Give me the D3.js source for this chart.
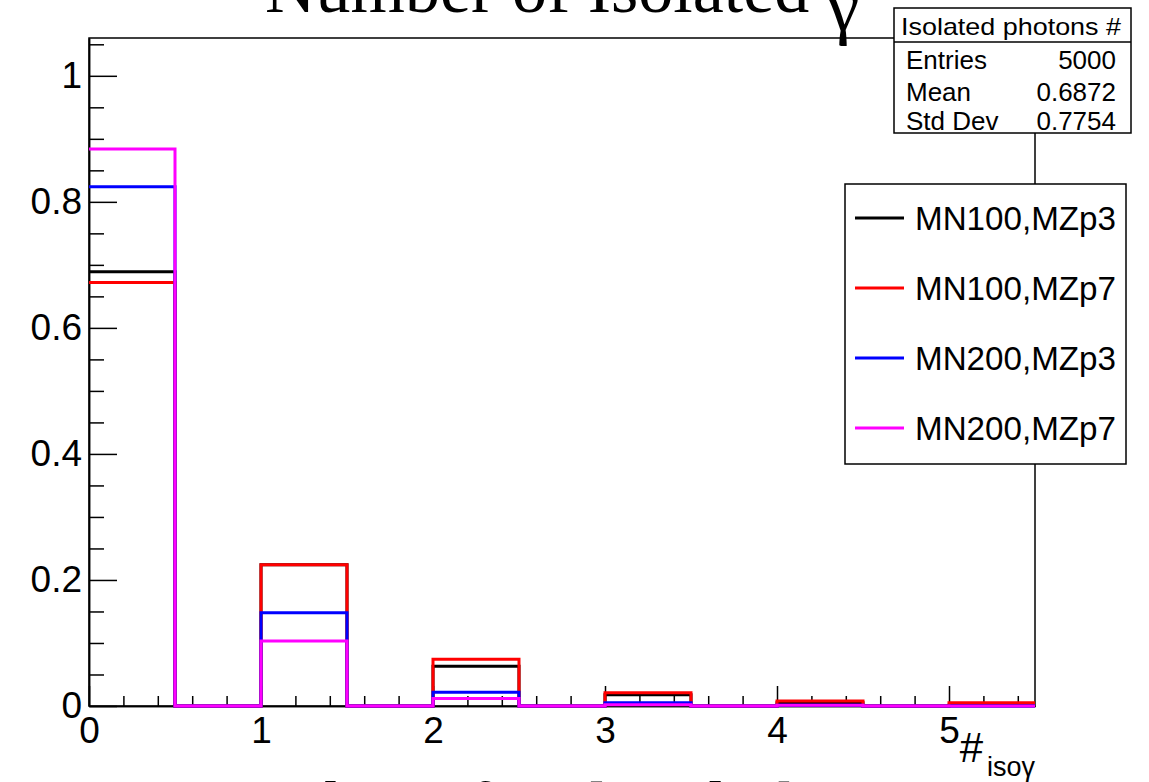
<!DOCTYPE html>
<html>
<head>
<meta charset="utf-8">
<script src="https://cdn.jsdelivr.net/npm/d3@7"></script>
<style>
body { margin: 0; background: #fff; }
svg { display: block; }
text { font-family: "Liberation Sans", Arial, Helvetica, sans-serif; fill: #000; }
.serif { font-family: "Liberation Serif", "Times New Roman", serif; }
</style>
</head>
<body>
<svg id="chart" width="1149" height="782"></svg>
<script>
// bin lower edges (bin width 0.5)
var binEdges = [0, 0.5, 1, 1.5, 2, 2.5, 3, 3.5, 4, 4.5, 5];
var binHigh = 5.5;

var seriesNames = ["MN100,MZp3", "MN100,MZp7", "MN200,MZp3", "MN200,MZp7"];
var seriesColors = ["#000000", "#ff0000", "#0000ff", "#ff00ff"];

var mn100mzp3 = [0.689, 0, 0.224, 0, 0.063, 0, 0.018, 0, 0.005, 0, 0.001];
var mn100mzp7 = [0.672, 0, 0.224, 0, 0.074, 0, 0.021, 0, 0.008, 0, 0.005];
var mn200mzp3 = [0.824, 0, 0.148, 0, 0.022, 0, 0.005, 0, 0.001, 0, 0.0];
var mn200mzp7 = [0.884, 0, 0.103, 0, 0.012, 0, 0.002, 0, 0.001, 0, 0.0];

var xTicks = [0, 1, 2, 3, 4, 5];
var yTicks = [0, 0.2, 0.4, 0.6, 0.8, 1];

var statsTitle = "Isolated photons #";
var statsLabels = ["Entries", "Mean", "Std Dev"];
var statsValues = ["5000", "0.6872", "0.7754"];

var allSeries = [mn100mzp3, mn100mzp7, mn200mzp3, mn200mzp7];

function draw() {
    var svg = d3.select("#chart");

    var padL = 89, padR = 1035, padT = 38, padB = 706;

    var x = d3.scaleLinear().domain([0, binHigh]).range([padL, padR]);
    var y = d3.scaleLinear().domain([0, 1.06]).range([padB, padT]);

    // title (cut at the top of the canvas)
    var title = svg.append("text")
        .attr("class", "serif")
        .attr("x", 265)
        .attr("y", 12)
        .style("font-size", "70px")
        .text("Number of Isolated ");
    title.append("tspan").attr("dy", 18).style("font-size", "74px").text("γ");

    // caption below, mostly cut off
    svg.append("text")
        .attr("class", "serif")
        .attr("x", 575)
        .attr("y", 830)
        .attr("text-anchor", "middle")
        .style("font-size", "70px")
        .text("Number of isolated photons");

    var line = d3.line()
        .x(function(d) { return x(d[0]); })
        .y(function(d) { return y(d[1]); })
        .curve(d3.curveStepAfter);

    // frame
    svg.append("rect")
        .attr("x", padL).attr("y", padT)
        .attr("width", padR - padL).attr("height", padB - padT)
        .attr("fill", "none").attr("stroke", "#000").attr("stroke-width", 1.5);

    // y axis
    var yAxis = svg.append("g")
        .attr("transform", "translate(" + padL + ",0)")
        .call(d3.axisLeft(y).tickValues(yTicks).tickSizeInner(-28).tickSizeOuter(0).tickPadding(7)
            .tickFormat(d3.format("")));
    var yMinor = svg.append("g")
        .attr("transform", "translate(" + padL + ",0)")
        .call(d3.axisLeft(y)
            .tickValues(d3.range(0, 22).map(function(k) { return k * 0.05; }).filter(function(v) { return Math.round(v * 100) % 20 != 0; }))
            .tickSizeInner(-15).tickSizeOuter(0).tickFormat(""));

    // x axis
    var xAxis = svg.append("g")
        .attr("transform", "translate(0," + padB + ")")
        .call(d3.axisBottom(x).tickValues(xTicks).tickSizeInner(-20).tickSizeOuter(0).tickPadding(11)
            .tickFormat(d3.format("")));
    var xMinor = svg.append("g")
        .attr("transform", "translate(0," + padB + ")")
        .call(d3.axisBottom(x)
            .tickValues(d3.range(0, 28).map(function(k) { return k * 0.2; }).filter(function(v) { return Math.abs(v - Math.round(v)) > 0.01; }))
            .tickSizeInner(-10).tickSizeOuter(0).tickFormat(""));

    [yAxis, yMinor, xAxis, xMinor].forEach(function(g) {
        g.select(".domain").attr("stroke", "#000").attr("stroke-width", 1.5);
        g.selectAll(".tick line").attr("stroke", "#000").attr("stroke-width", 1.5);
        g.selectAll(".tick text")
            .style("font-size", "37px")
            .style("font-family", "'Liberation Sans', Arial, sans-serif")
            .attr("fill", "#000");
    });

    // histograms, magenta last so it sits on top
    allSeries.forEach(function(vals, i) {
        var pts = binEdges.map(function(e, j) { return [e, vals[j]]; });
        pts.push([binHigh, vals[vals.length - 1]]);
        svg.append("path")
            .attr("d", line(pts))
            .attr("fill", "none")
            .attr("stroke", seriesColors[i])
            .attr("stroke-width", 3);
    });

    // x axis title  #_{isoγ}
    svg.append("text")
        .attr("x", 983).attr("y", 762)
        .attr("text-anchor", "end")
        .style("font-size", "42px")
        .text("#");
    svg.append("text")
        .attr("x", 1035).attr("y", 776)
        .attr("text-anchor", "end")
        .style("font-size", "27px")
        .text("isoγ");

    // stats box
    var stats = svg.append("g");
    stats.append("rect")
        .attr("x", 894).attr("y", 8).attr("width", 237).attr("height", 125)
        .attr("fill", "#fff").attr("stroke", "#000").attr("stroke-width", 1.5);
    stats.append("line")
        .attr("x1", 894).attr("x2", 1131).attr("y1", 42).attr("y2", 42)
        .attr("stroke", "#000").attr("stroke-width", 1.5);
    stats.append("text")
        .attr("x", 901).attr("y", 35)
        .attr("textLength", 220).attr("lengthAdjust", "spacingAndGlyphs")
        .style("font-size", "24px")
        .text(statsTitle);
    var rowY = [69, 101, 130];
    statsLabels.forEach(function(lab, i) {
        stats.append("text")
            .attr("x", 906).attr("y", rowY[i])
            .style("font-size", "26px")
            .text(lab);
        stats.append("text")
            .attr("x", 1116).attr("y", rowY[i])
            .attr("text-anchor", "end")
            .style("font-size", "26px")
            .text(statsValues[i]);
    });

    // legend
    var legend = svg.append("g");
    legend.append("rect")
        .attr("x", 845).attr("y", 184).attr("width", 281).attr("height", 280)
        .attr("fill", "#fff").attr("stroke", "#000").attr("stroke-width", 1.5);
    seriesNames.forEach(function(name, i) {
        var ly = 218 + i * 70;
        legend.append("line")
            .attr("x1", 855).attr("x2", 904).attr("y1", ly).attr("y2", ly)
            .attr("stroke", seriesColors[i]).attr("stroke-width", 3);
        legend.append("text")
            .attr("x", 915).attr("y", ly + 12)
            .attr("textLength", 201).attr("lengthAdjust", "spacingAndGlyphs")
            .style("font-size", "33px")
            .text(name);
    });
}

draw();
</script>
</body>
</html>
